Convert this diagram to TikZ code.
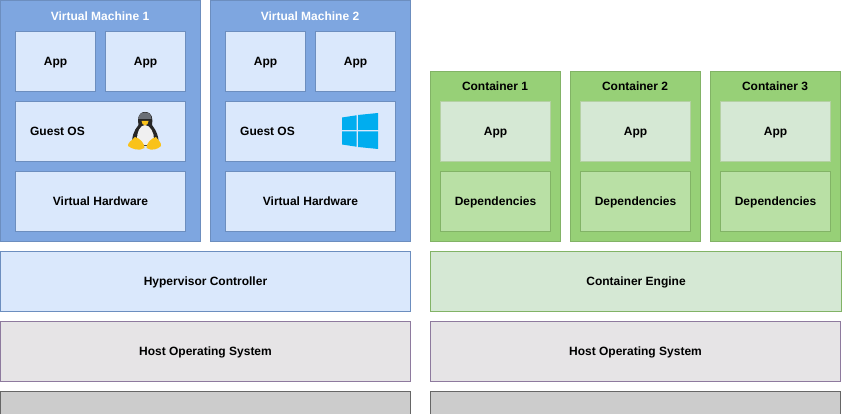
\documentclass[tikz,border=0pt]{standalone}
\usepackage{fontspec}
\setmainfont{Liberation Sans}
\definecolor{blueline}{HTML}{6C8EBF}
\definecolor{bluefill}{HTML}{DAE8FC}
\definecolor{vmfill}{HTML}{7EA6E0}
\definecolor{greenline}{HTML}{82B366}
\definecolor{greenfill}{HTML}{D5E8D4}
\definecolor{ctrfill}{HTML}{97D077}
\definecolor{depfill}{HTML}{B9E0A5}
\definecolor{purpleline}{HTML}{8E7A9E}
\definecolor{hostfill}{HTML}{E6E4E6}
\definecolor{greyline}{HTML}{666666}
\definecolor{greyfill}{HTML}{CCCCCC}
\definecolor{winblue}{HTML}{00ADEF}
\definecolor{tuxyellow}{HTML}{F9C21A}
\definecolor{tuxdark}{HTML}{262626}
\definecolor{tuxhead}{HTML}{6A6F76}
\tikzset{
  basebox/.style={draw, rectangle, line width=0.8pt, inner sep=0pt, outer sep=0pt,
    font=\fontsize{12}{14}\selectfont\bfseries, text=black, text height=9pt, text depth=0.8pt},
  vmbox/.style={basebox, draw=blueline, fill=vmfill, minimum width=200pt, minimum height=241pt},
  bluebox/.style={basebox, draw=blueline, fill=bluefill},
  ctrbox/.style={basebox, draw=greenline, fill=ctrfill, minimum width=130pt, minimum height=170pt},
  appgreen/.style={basebox, draw=greenline!60!white, fill=greenfill, minimum width=110pt, minimum height=60pt},
  depbox/.style={basebox, draw=greenline, fill=depfill, minimum width=110pt, minimum height=60pt},
  wide/.style={minimum width=410pt, minimum height=60pt},
  hostbox/.style={basebox, wide, draw=purpleline, fill=hostfill},
  hwbox/.style={basebox, wide, draw=greyline, fill=greyfill},
  smallapp/.style={bluebox, minimum width=80pt, minimum height=60pt},
  widevm/.style={bluebox, minimum width=170pt, minimum height=60pt},
  caption/.style={inner sep=0pt, font=\fontsize{12}{14}\selectfont\bfseries, text height=9pt, text depth=0.8pt},
}
\begin{document}
\begin{tikzpicture}[x=1pt, y=-1pt]
  \useasboundingbox (0,0) rectangle (842,414);

  % virtual machine 1
  \node[vmbox] (vma) at (100.5, 121) {};
  \node[caption, text=white] (vmatitle) at (100, 16) {Virtual Machine 1};
  \node[smallapp] (vmaappa) at (55.5, 61.5) {App};
  \node[smallapp] (vmaappb) at (145.5, 61.5) {App};
  \node[widevm] (vmaos) at (100.5, 131.5) {};
  \node[caption] (vmaostext) at (57.5, 131) {Guest OS};
  \node[widevm] (vmahw) at (100.5, 201.5) {Virtual Hardware};

  % virtual machine 2
  \node[vmbox] (vmb) at (310.5, 121) {};
  \node[caption, text=white] (vmbtitle) at (310, 16) {Virtual Machine 2};
  \node[smallapp] (vmbappa) at (265.5, 61.5) {App};
  \node[smallapp] (vmbappb) at (355.5, 61.5) {App};
  \node[widevm] (vmbos) at (310.5, 131.5) {};
  \node[caption] (vmbostext) at (267.5, 131) {Guest OS};
  \node[widevm] (vmbhw) at (310.5, 201.5) {Virtual Hardware};

  % containers
  \node[ctrbox] (ctra) at (495.5, 156.5) {};
  \node[caption] (ctratitle) at (495, 86) {Container 1};
  \node[appgreen] (ctraapp) at (495.5, 131.5) {App};
  \node[depbox] (ctradep) at (495.5, 201.5) {Dependencies};
  \node[ctrbox] (ctrb) at (635.5, 156.5) {};
  \node[caption] (ctrbtitle) at (635, 86) {Container 2};
  \node[appgreen] (ctrbapp) at (635.5, 131.5) {App};
  \node[depbox] (ctrbdep) at (635.5, 201.5) {Dependencies};
  \node[ctrbox] (ctrc) at (775.5, 156.5) {};
  \node[caption] (ctrctitle) at (775, 86) {Container 3};
  \node[appgreen] (ctrcapp) at (775.5, 131.5) {App};
  \node[depbox] (ctrcdep) at (775.5, 201.5) {Dependencies};

  % layers
  \node[bluebox, wide] (hyper) at (205.5, 281.5) {Hypervisor Controller};
  \node[basebox, wide, draw=greenline, fill=greenfill, minimum width=411pt] (engine) at (636, 281.5) {Container Engine};
  \node[hostbox] (hostl) at (205.5, 351.5) {Host Operating System};
  \node[hostbox] (hostr) at (635.5, 351.5) {Host Operating System};
  \node[hwbox] (hwl) at (205.5, 421.5) {};
  \node[hwbox] (hwr) at (635.5, 421.5) {};

  % penguin
  \fill[tuxdark] (145,112) .. controls (137.5,112) and (137.5,120) .. (138.5,125)
    .. controls (134,130) and (131,138) .. (132.5,146) -- (158,146)
    .. controls (160,138) and (156,130) .. (152,125)
    .. controls (153,119) and (152.5,112) .. (145,112) -- cycle;
  \fill[tuxhead] (145,112.5) .. controls (139.5,112.5) and (138.5,116) .. (138.5,119)
    -- (151.5,119) .. controls (151.5,116) and (150.5,112.5) .. (145,112.5) -- cycle;
  \fill[white!94!black] (145,125) .. controls (140,125) and (136.5,133) .. (137,140)
    .. controls (139,147) and (152,147) .. (154,140)
    .. controls (154.5,133) and (150,125) .. (145,125) -- cycle;
  \fill[tuxyellow] (141.5,121) -- (148.5,121) -- (147.5,124) -- (145,125.5) -- (142.5,124) -- cycle;
  \fill[tuxyellow] (135,137) .. controls (131,141) and (127.5,143) .. (128,146)
    .. controls (132,149) and (139,151.5) .. (144.5,148)
    .. controls (145,144) and (140,138) .. (135,137) -- cycle;
  \fill[tuxyellow] (156,137) .. controls (159,141) and (161.5,143) .. (161,146)
    .. controls (158,149) and (152,151.5) .. (146.5,148)
    .. controls (146,144) and (151,138) .. (156,137) -- cycle;

  % windows logo
  \fill[winblue] (342,117.5) -- (356.5,115.3) -- (356.5,130) -- (342,130) -- cycle;
  \fill[winblue] (358,115) -- (378,113) -- (378,130) -- (358,130) -- cycle;
  \fill[winblue] (342,131.5) -- (356.5,131.5) -- (356.5,146.7) -- (342,144.5) -- cycle;
  \fill[winblue] (358,131.5) -- (378,131.5) -- (378,149) -- (358,147) -- cycle;
\end{tikzpicture}
\end{document}
